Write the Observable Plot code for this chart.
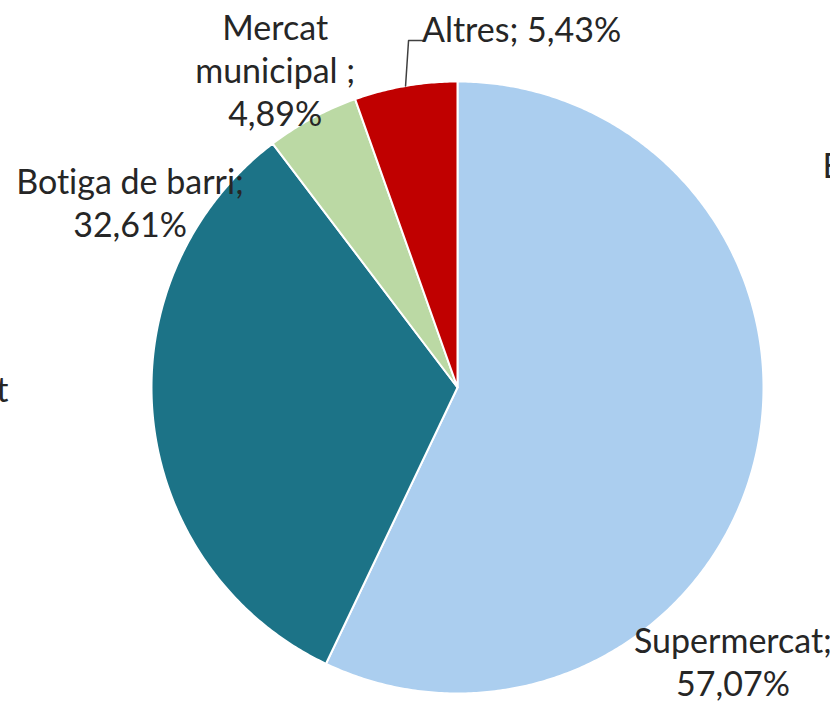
<!DOCTYPE html>
<html><head><meta charset="utf-8">
<script src="https://cdn.jsdelivr.net/npm/d3@7"></script>
<script src="https://cdn.jsdelivr.net/npm/@observablehq/plot@0.6"></script>
<style>body{margin:0;background:#fff} #chart svg{display:block} text{font-variant-ligatures:none}</style>
</head><body><div id="chart"></div>
<script>
// ---- data ----
const categories = ["Supermercat", "Botiga de barri", "Mercat municipal", "Altres"];
const values = [57.07, 32.61, 4.89, 5.43];
const labelTexts = ["Supermercat;\n57,07%", "Botiga de barri;\n32,61%", "Mercat\nmunicipal ;\n4,89%", "Altres; 5,43%"];
const colors = ["#ABCEEF", "#1C7387", "#BBD9A4", "#C00000"];

// ---- layout / style ----
const W = 830, H = 702, R = 306;
const margins = {left: 151, right: 67, top: 81, bottom: 9};
const labelOffsets = [[-23, 206], [-23, -217], [-37, -49], [116, -58]]; // px from slice mid-arc point
const FONT = "Lato, sans-serif";
const FS = 34;

const total = d3.sum(values);
let acc = 0;
const slices = categories.map((c, i) => {
  const a0 = acc / total * 2 * Math.PI; acc += values[i];
  const a1 = acc / total * 2 * Math.PI;
  const mid = (a0 + a1) / 2;
  return {c, i, a0, a1, mid, mx: Math.sin(mid), my: Math.cos(mid), label: labelTexts[i]};
});
const poly = [];
slices.forEach(s => {
  poly.push({c: s.c, x: 0, y: 0});
  const n = Math.max(2, Math.ceil((s.a1 - s.a0) / (Math.PI / 360)));
  for (let k = 0; k <= n; k++) {
    const a = s.a0 + (s.a1 - s.a0) * k / n;
    poly.push({c: s.c, x: Math.sin(a), y: Math.cos(a)});
  }
  poly.push({c: s.c, x: 0, y: 0});
});
// leader line for "Altres"
const alt = slices[3];
const leader = [
  {x: alt.mx, y: alt.my},
  {x: alt.mx + 3 / R, y: alt.my + 45.5 / R},
  {x: alt.mx + 18 / R, y: alt.my + 45.5 / R}
];

const chart = Plot.plot({
  width: W, height: H,
  marginLeft: margins.left, marginRight: margins.right, marginTop: margins.top, marginBottom: margins.bottom,
  x: {domain: [-1, 1], axis: null},
  y: {domain: [-1, 1], axis: null},
  color: {domain: categories, range: colors},
  style: {fontFamily: FONT, background: "white"},
  marks: [
    Plot.line(poly, {x: "x", y: "y", z: "c", fill: "c", stroke: "white", strokeWidth: 2, strokeLinejoin: "round"}),
    Plot.line(leader, {x: "x", y: "y", stroke: "#404040", strokeWidth: 1.5}),
    ...slices.map(s => Plot.text([s], {
      x: "mx", y: "my", text: "label",
      dx: labelOffsets[s.i][0], dy: labelOffsets[s.i][1],
      fontSize: FS, lineHeight: 43 / FS, fill: "#262626", textAnchor: "middle"
    })),
    Plot.text(["t"], {frameAnchor: "left", textAnchor: "end", dx: -143, dy: 4, fontSize: FS, fill: "#262626"}),
    Plot.text(["E"], {frameAnchor: "right", textAnchor: "start", dx: 59, dy: -220, fontSize: FS, fill: "#262626"})
  ]
});
document.getElementById("chart").append(chart);
</script>
</body></html>
